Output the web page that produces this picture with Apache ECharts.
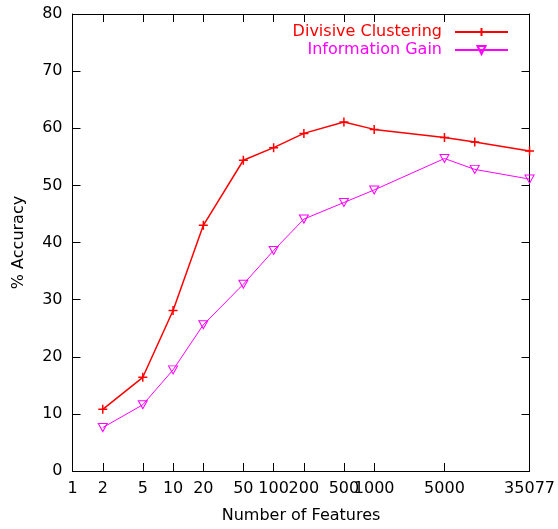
<!DOCTYPE html>
<html>
<head>
<meta charset="utf-8">
<script src="https://cdn.jsdelivr.net/npm/echarts@6/dist/echarts.min.js"></script>
<style>
html,body{margin:0;padding:0;background:#fff;}
#chart{width:558px;height:529px;}
</style>
</head>
<body>
<div id="chart"></div>
<script>
// Data
const features = [2, 5, 10, 20, 50, 100, 200, 500, 1000, 5000, 10000, 35077];
const divisiveClustering = [10.8, 16.4, 28.1, 43.0, 54.4, 56.6, 59.1, 61.1, 59.8, 58.4, 57.6, 56.0];
const informationGain = [7.6, 11.6, 17.7, 25.6, 32.7, 38.6, 44.1, 47.0, 49.2, 54.7, 52.8, 51.1];
const xTicks = [1, 2, 5, 10, 20, 50, 100, 200, 500, 1000, 5000, 35077];
const yMin = 0, yMax = 80, yStep = 10;

const FONT = 'DejaVu Sans';
const plusPath = 'path://M0,5 L10,5 M5,0 L5,10';
const triPath = 'path://M0,0 L10,0 L5,8.66 Z';

const chart = echarts.init(document.getElementById('chart'), null, {renderer: 'canvas'});

function xAxisCfg(pos, showLabel) {
  return {
    type: 'log', logBase: 10, min: 1, max: 35077, position: pos,
    name: showLabel ? 'Number of Features' : '',
    nameLocation: 'middle', nameGap: 37,
    nameTextStyle: {fontFamily: FONT, fontSize: 16, color: '#000'},
    axisLine: {show: true, onZero: false, lineStyle: {color: '#000', width: 1}},
    axisTick: {show: true, inside: true, length: 8, customValues: xTicks, lineStyle: {color: '#000'}},
    minorTick: {show: false},
    axisLabel: {show: showLabel, customValues: xTicks, margin: 10, fontFamily: FONT, fontSize: 16, color: '#000',
      formatter: v => String(Math.round(v))},
    splitLine: {show: false}
  };
}
function yAxisCfg(pos, showLabel) {
  return {
    type: 'value', min: yMin, max: yMax, interval: yStep, position: pos,
    name: showLabel ? '% Accuracy' : '',
    nameLocation: 'middle', nameGap: 46, nameRotate: 90,
    nameTextStyle: {fontFamily: FONT, fontSize: 16, color: '#000'},
    axisLine: {show: true, onZero: false, lineStyle: {color: '#000', width: 1}},
    axisTick: {show: true, inside: true, length: 8, lineStyle: {color: '#000'}},
    axisLabel: {show: showLabel, margin: 10, fontFamily: FONT, fontSize: 16, color: '#000'},
    splitLine: {show: false}
  };
}

const legendBase = {
  orient: 'vertical', right: 49, align: 'right', padding: 0,
  itemWidth: 53, itemHeight: 10, selectedMode: false
};

chart.setOption({
  animation: false,
  backgroundColor: '#fff',
  grid: {left: 72.5, right: 26, top: 14, bottom: 56, containLabel: false},
  xAxis: [xAxisCfg('bottom', true), xAxisCfg('top', false)],
  yAxis: [yAxisCfg('left', true), yAxisCfg('right', false)],
  legend: [
    Object.assign({}, legendBase, {top: 24, data: ['Divisive Clustering'],
      textStyle: {fontFamily: FONT, fontSize: 16, color: '#ff0000', padding: [0, 8, 0, 0]}}),
    Object.assign({}, legendBase, {top: 42, data: ['Information Gain'],
      textStyle: {fontFamily: FONT, fontSize: 16, color: '#ff00ff', padding: [0, 8, 0, 0]}})
  ],
  series: [
    {
      name: 'Divisive Clustering', type: 'line', xAxisIndex: 0, yAxisIndex: 0,
      data: features.map((f, i) => [f, divisiveClustering[i]]),
      symbol: plusPath, symbolSize: 9, showSymbol: true,
      itemStyle: {color: '#ff0000', borderColor: '#ff0000', borderWidth: 1.5},
      lineStyle: {color: '#ff0000', width: 1.5}
    },
    {
      name: 'Information Gain', type: 'line', xAxisIndex: 0, yAxisIndex: 0,
      data: features.map((f, i) => [f, informationGain[i]]),
      symbol: triPath, symbolSize: [9, 8], showSymbol: true,
      itemStyle: {color: 'rgba(255,255,255,0)', borderColor: '#ff00ff', borderWidth: 1},
      lineStyle: {color: '#ff00ff', width: 1}
    }
  ]
});
</script>
</body>
</html>
